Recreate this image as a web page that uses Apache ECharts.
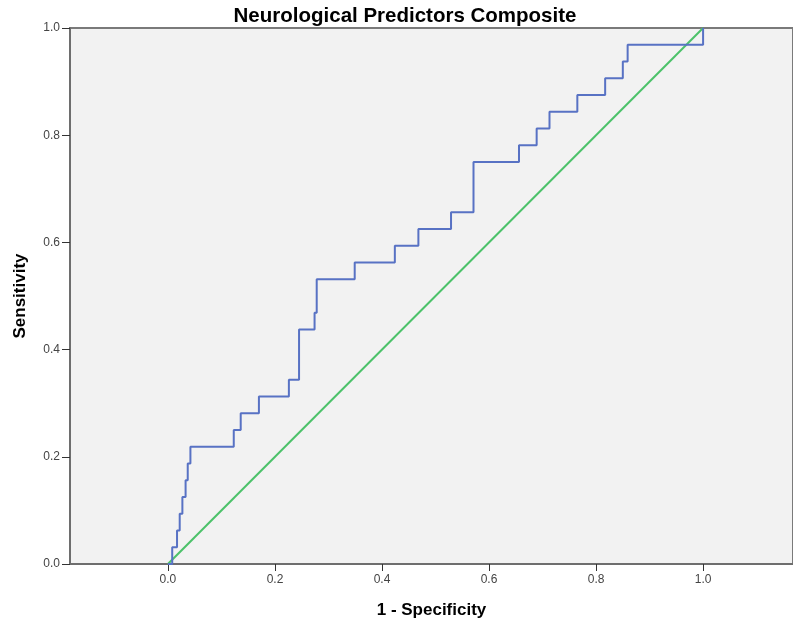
<!DOCTYPE html>
<html>
<head>
<meta charset="utf-8">
<script src="https://cdn.jsdelivr.net/npm/echarts@6/dist/echarts.min.js"></script>
<style>
  html, body { margin: 0; padding: 0; background: #ffffff; }
  #chart { width: 793px; height: 628px; }
</style>
</head>
<body>
<div id="chart"></div>
<script>
// ROC curve points: false positive rate (1 - specificity) and sensitivity
const fpr = [0, 0.008, 0.017, 0.022, 0.027, 0.033, 0.037, 0.042, 0.123, 0.136, 0.170,
  0.226, 0.245, 0.274, 0.278, 0.349, 0.424, 0.468, 0.529, 0.571, 0.656, 0.689,
  0.713, 0.765, 0.817, 0.850, 0.859, 1.0];
const sensitivity = [0, 0.03125, 0.0625, 0.09375, 0.125, 0.15625, 0.1875, 0.21875,
  0.25, 0.28125, 0.3125, 0.34375, 0.4375, 0.46875, 0.53125, 0.5625, 0.59375, 0.625,
  0.65625, 0.75, 0.78125, 0.8125, 0.84375, 0.875, 0.90625, 0.9375, 0.96875, 1.0];

// Chance (reference) line
const refX = [0, 1];
const refY = [0, 1];

// Tick positions
const xTicks = [0, 0.2, 0.4, 0.6, 0.8, 1.0];
const yTicks = [0, 0.2, 0.4, 0.6, 0.8, 1.0];

const rocData = fpr.map((x, i) => [x, sensitivity[i]]);
const refData = refX.map((x, i) => [x, refY[i]]);

const chart = echarts.init(document.getElementById('chart'), null, { renderer: 'canvas' });
const fontFamily = '"Liberation Sans", Arial, sans-serif';

chart.setOption({
  animation: false,
  backgroundColor: '#ffffff',
  title: {
    text: 'Neurological Predictors Composite',
    left: 400,
    textAlign: 'center',
    top: 1,
    textStyle: { fontFamily, fontSize: 20.5, fontWeight: 'bold', color: '#000000' }
  },
  grid: {
    left: 70, top: 28, right: -6, bottom: 64,
    show: true,
    backgroundColor: '#f2f2f2',
    borderColor: '#7a7a7a',
    borderWidth: 2,
    containLabel: false
  },
  xAxis: {
    type: 'value',
    min: -0.183,
    max: 1.168,
    name: '1 - Specificity',
    nameLocation: 'middle',
    nameGap: 38,
    nameTextStyle: { fontFamily, fontSize: 17, fontWeight: 'bold', color: '#000000' },
    axisLine: { show: true, onZero: false, lineStyle: { color: '#6e6e6e', width: 2 } },
    axisTick: { show: true, length: 7, customValues: xTicks, lineStyle: { color: '#333333', width: 1 } },
    axisLabel: {
      customValues: xTicks,
      margin: 10,
      fontFamily, fontSize: 12, color: '#444444',
      formatter: v => v.toFixed(1)
    },
    splitLine: { show: false }
  },
  yAxis: {
    type: 'value',
    min: 0,
    max: 1,
    interval: 0.2,
    name: 'Sensitivity',
    nameLocation: 'middle',
    nameGap: 41,
    nameRotate: 90,
    nameTextStyle: { fontFamily, fontSize: 17, fontWeight: 'bold', color: '#000000' },
    axisLine: { show: true, onZero: false, lineStyle: { color: '#6e6e6e', width: 2 } },
    axisTick: { show: true, length: 8, customValues: yTicks, lineStyle: { color: '#333333', width: 1 } },
    axisLabel: {
      customValues: yTicks,
      margin: 10,
      fontFamily, fontSize: 12, color: '#444444',
      formatter: v => v.toFixed(1)
    },
    splitLine: { show: false }
  },
  series: [
    {
      name: 'Reference Line',
      type: 'line',
      data: refData,
      symbol: 'none',
      lineStyle: { color: '#4cc26a', width: 2 },
      z: 2
    },
    {
      name: 'ROC',
      type: 'line',
      data: rocData,
      step: 'end',
      symbol: 'none',
      lineStyle: { color: '#5872c4', width: 2 },
      z: 3
    }
  ]
});
</script>
</body>
</html>
